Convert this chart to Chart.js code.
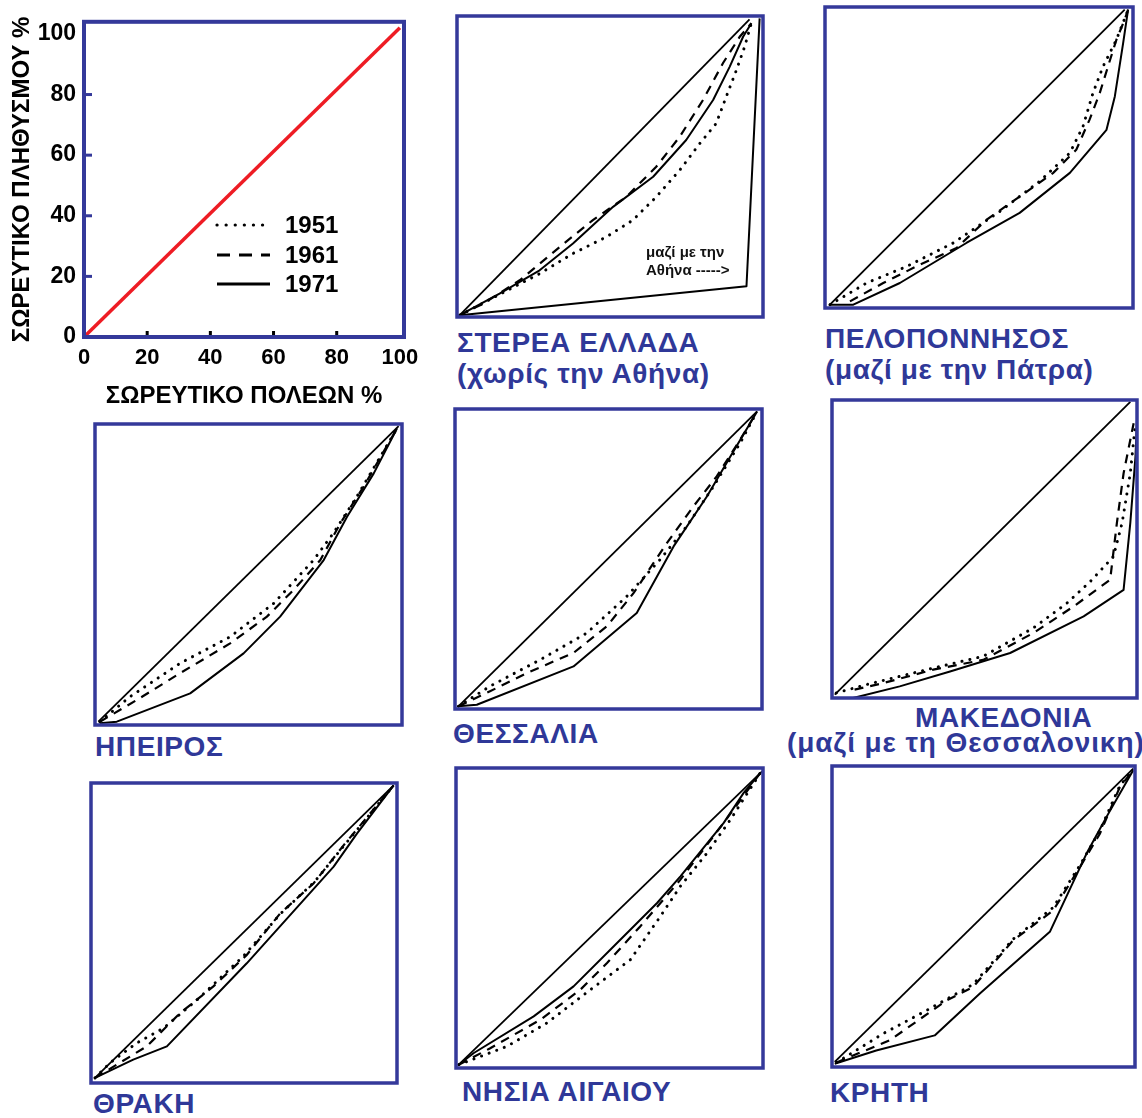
<!DOCTYPE html>
<html>
<head>
<meta charset="utf-8">
<script src="https://cdn.jsdelivr.net/npm/chart.js@4.4.1/dist/chart.umd.min.js"></script>
<style>
html,body{margin:0;padding:0;background:#fff;}
body{width:1142px;height:1118px;position:relative;overflow:hidden;font-family:"Liberation Sans",Arial,sans-serif;}
.ttl{position:absolute;color:#2f3898;font-weight:bold;font-size:28px;line-height:32px;white-space:nowrap;letter-spacing:0.6px;}
.leg{position:absolute;color:#000;font-weight:bold;font-size:24px;line-height:28px;}
.note{position:absolute;color:#111;font-weight:bold;font-size:15px;line-height:18px;white-space:nowrap;}
</style>
</head>
<body>
<script>
// ---------------- DATA (cumulative % of towns  ->  cumulative % of population) ----------------
const axisTicks = [0, 20, 40, 60, 80, 100];
const years = ['1951', '1961', '1971'];

// key panel (red equality line)
const keyLine = [[0,0],[100,102]];

// ΣΤΕΡΕΑ ΕΛΛΑΔΑ (χωρίς την Αθήνα)
const steDiag = [[0.9,0.6],[95.6,98.9]];
const ste1951 = [[0.9,0.6],[27.0,14.4],[37.9,21.1],[48.8,26.6],[57.5,32.2],[65.1,39.9],[72.8,48.8],[79.3,57.6],[84.7,64.3],[88.0,73.2],[91.3,82.0],[94.0,89.8],[96.2,97.6]];
const ste1961 = [[0.9,0.6],[8.5,4.4],[20.5,12.2],[33.6,23.3],[44.4,32.2],[55.3,39.9],[65.1,49.9],[72.8,59.9],[80.4,72.1],[86.9,84.3],[92.4,93.1],[96.2,97.6]];
const ste1971 = [[0.9,0.6],[13.9,7.8],[27.0,15.5],[37.9,24.4],[51.0,36.6],[64.1,46.6],[74.9,58.8],[83.7,72.1],[89.1,83.1],[93.5,93.1],[96.2,97.6]];
const ste1971Athens = [[0.9,0.6],[94.6,10.2],[98.9,99.2]];

// ΠΕΛΟΠΟΝΝΗΣΟΣ (μαζί με την Πάτρα)
const pelDiag = [[1.6,1.1],[97.3,99.1]];
const pel1951 = [[1.6,1.1],[13.5,8.3],[26.5,13.8],[41.6,21.6],[56.8,32.1],[69.7,42.1],[79.5,51.5],[83.8,60.4],[87.0,71.4],[90.3,80.3],[94.6,89.1],[98.4,99.1]];
const pel1961 = [[8.1,2.2],[18.9,8.3],[30.8,14.4],[42.7,19.9],[52.4,29.3],[63.2,37.0],[74.1,44.9],[81.6,52.6],[85.9,62.6],[89.2,71.4],[91.9,80.3],[94.6,89.1],[97.3,95.8],[98.4,99.1]];
const pel1971 = [[1.6,1.1],[9.2,1.1],[24.3,8.3],[45.9,21.6],[63.2,31.6],[79.5,44.9],[91.4,59.2],[94.1,70.3],[96.8,88.0],[98.4,99.1]];

// ΗΠΕΙΡΟΣ
const ipeDiag = [[1.1,1.1],[98.9,99.3]];
const ipe1951 = [[1.6,1.1],[11.4,9.4],[27.7,20.5],[44.0,29.3],[58.2,40.4],[71.2,54.8],[77.7,63.8],[85.3,75.9],[98.4,98.6]];
const ipe1961 = [[1.6,1.1],[13.6,8.3],[27.7,17.2],[44.0,27.1],[56.0,36.0],[64.7,44.9],[73.4,54.8],[79.9,67.0],[87.5,79.2],[98.4,98.6]];
const ipe1971 = [[1.6,0.6],[7.1,1.1],[31.0,10.5],[48.4,23.8],[60.3,36.0],[74.5,54.8],[82.1,69.2],[90.8,83.6],[98.4,98.6]];

// ΘΕΣΣΑΛΙΑ
const theDiag = [[1.1,0.9],[98.4,99.2]];
const the1951 = [[1.1,0.9],[11.4,7.6],[27.7,16.4],[42.9,25.3],[56.0,37.6],[66.8,49.8],[75.5,60.9],[84.2,74.2],[92.9,88.7],[98.4,99.2]];
const the1961 = [[1.1,0.9],[11.4,5.9],[23.4,12.0],[38.6,18.7],[49.5,27.6],[58.2,38.7],[69.0,55.3],[77.7,67.6],[85.3,77.6],[92.9,89.8],[98.4,99.2]];
const the1971 = [[1.1,0.9],[7.1,1.4],[38.6,14.2],[59.2,32.0],[71.2,54.2],[82.1,70.9],[89.7,84.2],[98.4,99.2]];

// ΜΑΚΕΔΟΝΙΑ (μαζί με τη Θεσσαλονικη)
const makDiag = [[0.9,1.1],[97.8,99.4]];
const mak1951 = [[1.4,1.7],[11.3,4.5],[31.0,9.5],[49.6,14.0],[66.0,23.5],[77.0,31.8],[84.7,39.1],[92.3,47.5],[95.1,58.7],[97.8,75.4],[99.5,92.2]];
const mak1961 = [[7.4,2.8],[16.8,5.0],[33.2,9.5],[49.6,12.8],[66.0,21.8],[79.2,30.7],[91.2,39.7],[93.4,58.7],[95.6,75.4],[98.9,92.2]];
const mak1971 = [[6.9,0],[22.2,3.9],[38.7,8.9],[58.4,15.1],[82.5,27.4],[95.6,36.3],[97.8,58.7],[99.5,81.0],[100,93.3]];

// ΘΡΑΚΗ
const thrDiag = [[1.3,1.7],[98.9,99.2]];
const thr1951 = [[1.3,1.7],[6.2,6.7],[14.9,13.3],[23.7,18.3],[35.0,28.0],[50.0,42.5],[62.0,56.5],[73.0,67.0],[83.0,79.5],[98.9,99.2]];
const thr1961 = [[1.3,1.7],[18.2,12.2],[29.1,23.3],[40.0,32.2],[50.9,42.7],[61.8,56.5],[72.7,66.5],[82.6,79.3],[98.9,99.2]];
const thr1971 = [[1.3,1.7],[13.8,7.8],[24.8,12.2],[50.9,39.9],[79.3,72.1],[86.9,83.1],[98.9,99.2]];

// ΝΗΣΙΑ ΑΙΓΑΙΟΥ
const nisDiag = [[0.9,1.1],[99.7,98.9]];
const nis1951 = [[0.9,1.1],[16.6,7.2],[29.6,15.0],[43.8,26.1],[56.8,36.1],[66.6,50.6],[73.1,60.6],[81.8,71.7],[89.4,82.8],[99.1,98.3]];
const nis1961 = [[0.9,1.1],[11.0,6.5],[27.5,16.1],[40.5,26.1],[49.2,35.0],[60.0,47.2],[66.6,55.0],[73.1,62.8],[87.2,81.7],[99.1,98.3]];
const nis1971 = [[0.9,1.1],[5.8,5.0],[25.3,17.2],[38.3,27.2],[51.4,40.6],[65.5,55.0],[73.1,63.9],[87.2,81.7],[93.7,91.7],[99.1,98.3]];

// ΚΡΗΤΗ
const kriDiag = [[0.9,1.7],[99.4,99.1]];
const kri1951 = [[1.5,1.5],[16.9,11.1],[31.2,18.8],[37.8,22.5],[46.6,27.5],[59.8,42.5],[73.0,53.0],[81.8,67.0],[88.4,78.5],[95.0,93.5],[99.4,98.6]];
const kri1961 = [[1.5,1.5],[19.1,8.9],[37.8,22.1],[46.6,26.6],[59.8,42.1],[73.0,52.0],[81.8,66.4],[88.4,77.5],[95.0,93.0],[99.4,98.6]];
const kri1971 = [[0.9,1.1],[14.6,5.5],[33.9,10.5],[48.8,24.4],[71.9,44.9],[84.0,70.9],[90.6,83.1],[99.4,98.6]];

// ---------------- LAYOUT / STYLE ----------------
const FONT = "'Liberation Sans', Arial, sans-serif";
const FRAME = '#34399a';
Chart.defaults.font.family = FONT;

const toXY = arr => arr.map(p => ({x: p[0], y: p[1]}));

const framePlugin = {
  id: 'frame',
  afterDatasetsDraw(chart, args, opts) {
    const {ctx, chartArea: a} = chart;
    ctx.save();
    ctx.strokeStyle = opts.color || FRAME;
    ctx.lineWidth = opts.width || 3.5;
    ctx.strokeRect(a.left, a.top, a.right - a.left, a.bottom - a.top);
    ctx.restore();
  }
};

const innerTicksPlugin = {
  id: 'innerTicks',
  afterDraw(chart) {
    const {ctx, chartArea: a, scales} = chart;
    ctx.save();
    ctx.strokeStyle = FRAME; ctx.lineWidth = 3;
    [20, 40, 60, 80].forEach(v => {
      const y = scales.y.getPixelForValue(v);
      ctx.beginPath(); ctx.moveTo(a.left, y); ctx.lineTo(a.left + 8, y); ctx.stroke();
    });
    ctx.fillStyle = '#000';
    [20, 40, 60, 80].forEach(v => {
      const x = scales.x.getPixelForValue(v);
      ctx.fillRect(x - 1.5, a.bottom - 6, 3, 4);
    });
    ctx.restore();
  }
};

function addCanvas(left, top, w, h) {
  const c = document.createElement('canvas');
  c.width = w; c.height = h;
  c.style.cssText = `position:absolute;left:${left}px;top:${top}px;width:${w}px;height:${h}px;`;
  document.body.appendChild(c);
  return c;
}

function addText(cls, text, left, top, extraStyle) {
  const d = document.createElement('div');
  d.className = cls; d.textContent = text;
  d.style.left = left + 'px'; d.style.top = top + 'px';
  if (extraStyle) Object.assign(d.style, extraStyle);
  document.body.appendChild(d);
  return d;
}

const styles = {
  diag: {borderColor: '#000', borderWidth: 1.8},
  '1951': {borderColor: '#000', borderWidth: 3, borderDash: [0.1, 8], borderCapStyle: 'round'},
  '1961': {borderColor: '#000', borderWidth: 2.2, borderDash: [9, 7]},
  '1971': {borderColor: '#000', borderWidth: 2, borderJoinStyle: 'round'}
};

function lorenzPanel(box, diag, s51, s61, s71, extra) {
  const m = 4;
  const w = box[2] - box[0], h = box[3] - box[1];
  const cv = addCanvas(box[0] - m, box[1] - m, w + 2 * m, h + 2 * m);
  const datasets = [
    Object.assign({label: 'ισότητα', data: toXY(diag)}, styles.diag),
    Object.assign({label: years[0], data: toXY(s51)}, styles['1951']),
    Object.assign({label: years[1], data: toXY(s61)}, styles['1961']),
    Object.assign({label: years[2], data: toXY(s71)}, styles['1971'])
  ];
  if (extra) datasets.push(Object.assign({label: '1971 μαζί με την Αθήνα', data: toXY(extra)}, styles['1971']));
  datasets.forEach(d => { d.pointRadius = 0; d.fill = false; d.clip = false; d.tension = 0; });
  new Chart(cv, {
    type: 'line',
    data: {datasets},
    options: {
      responsive: false, animation: false,
      layout: {padding: m, autoPadding: false},
      scales: {
        x: {type: 'linear', min: 0, max: 100, display: false},
        y: {type: 'linear', min: 0, max: 100, display: false}
      },
      plugins: {legend: {display: false}, tooltip: {enabled: false}, frame: {color: FRAME, width: 3.5}}
    },
    plugins: [framePlugin]
  });
}

// ---------------- KEY PANEL (axes + red line) ----------------
(function () {
  const cv = addCanvas(0, 0, 440, 420);
  const tickFont = {family: FONT, size: 22, weight: 'bold'};
  new Chart(cv, {
    type: 'line',
    data: {datasets: [{label: 'ισοκατανομή', data: toXY(keyLine), borderColor: '#ee1c24', borderWidth: 3.5, pointRadius: 0, clip: false}]},
    options: {
      responsive: false, animation: false,
      layout: {padding: {top: 15, right: 36, left: 0, bottom: 0}, autoPadding: false},
      scales: {
        x: {
          type: 'linear', min: 0, max: 101.3,
          afterFit(s) { s.height = 83; },
          grid: {display: false, drawTicks: false}, border: {display: false},
          afterBuildTicks(s) { s.ticks = axisTicks.map(v => ({value: v})); },
          ticks: {color: '#000', font: tickFont, padding: 8, maxRotation: 0, autoSkip: false},
          title: {display: true, text: 'ΣΩΡΕΥΤΙΚΟ ΠΟΛΕΩΝ %', color: '#000', font: {family: FONT, size: 24, weight: 'bold'}, padding: {top: 0, bottom: 9}}
        },
        y: {
          type: 'linear', min: 0, max: 104,
          afterFit(s) { s.width = 84; },
          grid: {display: false, drawTicks: false}, border: {display: false},
          afterBuildTicks(s) { s.ticks = axisTicks.map(v => ({value: v})); },
          ticks: {color: '#000', font: {family: FONT, size: 23, weight: 'bold'}, padding: 8, autoSkip: false},
          title: {display: true, text: 'ΣΩΡΕΥΤΙΚΟ ΠΛΗΘΥΣΜΟΥ %', color: '#000', font: {family: FONT, size: 24, weight: 'bold'}, padding: {top: 8, bottom: 0}}
        }
      },
      plugins: {legend: {display: false}, tooltip: {enabled: false}, frame: {color: FRAME, width: 4}}
    },
    plugins: [framePlugin, innerTicksPlugin]
  });
})();

// legend of the line styles (inside key panel)
(function () {
  const ns = 'http://www.w3.org/2000/svg';
  const svg = document.createElementNS(ns, 'svg');
  svg.setAttribute('width', '62'); svg.setAttribute('height', '86');
  svg.style.cssText = 'position:absolute;left:212px;top:212px;';
  const defs = [
    {y: 13, dash: '0.1 9', cap: 'round', w: 3.2},
    {y: 43, dash: '13 9', cap: 'butt', w: 3.2},
    {y: 72, dash: null, cap: 'butt', w: 3.2}
  ];
  defs.forEach(d => {
    const l = document.createElementNS(ns, 'line');
    l.setAttribute('x1', '5'); l.setAttribute('x2', '58');
    l.setAttribute('y1', d.y); l.setAttribute('y2', d.y);
    l.setAttribute('stroke', '#000'); l.setAttribute('stroke-width', d.w);
    l.setAttribute('stroke-linecap', d.cap);
    if (d.dash) l.setAttribute('stroke-dasharray', d.dash);
    svg.appendChild(l);
  });
  document.body.appendChild(svg);
  addText('leg', years[0], 285, 211);
  addText('leg', years[1], 285, 241);
  addText('leg', years[2], 285, 270);
})();

// ---------------- REGION PANELS ----------------
lorenzPanel([457, 16, 763, 317], steDiag, ste1951, ste1961, ste1971, ste1971Athens);
lorenzPanel([825, 7, 1133, 308], pelDiag, pel1951, pel1961, pel1971);
lorenzPanel([95, 424, 402, 725], ipeDiag, ipe1951, ipe1961, ipe1971);
lorenzPanel([455, 409, 762, 709], theDiag, the1951, the1961, the1971);
lorenzPanel([832, 400, 1137, 698], makDiag, mak1951, mak1961, mak1971);
lorenzPanel([91, 783, 397, 1083], thrDiag, thr1951, thr1961, thr1971);
lorenzPanel([456, 768, 763, 1068], nisDiag, nis1951, nis1961, nis1971);
lorenzPanel([832, 766, 1135, 1067], kriDiag, kri1951, kri1961, kri1971);

// titles
addText('ttl', 'ΣΤΕΡΕΑ ΕΛΛΑΔΑ', 457, 327);
addText('ttl', '(χωρίς την Αθήνα)', 457, 358);
addText('ttl', 'ΠΕΛΟΠΟΝΝΗΣΟΣ', 825, 323);
addText('ttl', '(μαζί με την Πάτρα)', 825, 354);
addText('ttl', 'ΗΠΕΙΡΟΣ', 95, 731);
addText('ttl', 'ΘΕΣΣΑΛΙΑ', 453, 718);
addText('ttl', 'ΜΑΚΕΔΟΝΙΑ', 915, 702);
addText('ttl', '(μαζί με τη Θεσσαλονικη)', 787, 727, {letterSpacing: '0.9px'});
addText('ttl', 'ΘΡΑΚΗ', 93, 1088);
addText('ttl', 'ΝΗΣΙΑ ΑΙΓΑΙΟΥ', 462, 1076);
addText('ttl', 'ΚΡΗΤΗ', 830, 1077);

// annotation inside Στερεά Ελλάδα
addText('note', 'μαζί με την', 646, 243);
addText('note', 'Αθήνα ----->', 646, 261);
</script>
</body>
</html>
